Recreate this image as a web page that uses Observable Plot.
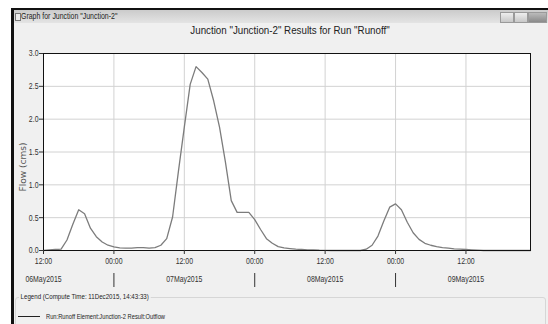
<!DOCTYPE html>
<html><head><meta charset="utf-8">
<script src="https://cdn.jsdelivr.net/npm/d3@7"></script>
<script src="https://cdn.jsdelivr.net/npm/@observablehq/plot@0.6"></script>
<style>
body{margin:0;background:#fff;}
#win{position:relative;width:548px;height:324px;overflow:hidden;background:#fff;font-family:"Liberation Sans",Arial,sans-serif;color:#222;}
.abs{position:absolute;}
#topline{left:11px;top:8px;width:537px;height:2px;background:#111;}
#leftline{left:11px;top:8px;width:3px;height:316px;background:#111;}
#titlebar{left:14px;top:10px;width:534px;height:13px;background:linear-gradient(#cbcbcb,#e4e4e4);}
#wtitle{left:21px;top:10px;font-size:8.5px;line-height:13px;white-space:nowrap;transform-origin:left center;transform:scaleX(0.82);}
#icon{left:15px;top:13px;width:4px;height:6px;border:1px solid #777;background:#eee;}
.btn{top:12px;height:9px;border:1px solid #9a9a9a;background:linear-gradient(#eee,#c8c8c8);}
#panel{left:14px;top:23px;width:534px;height:301px;background:#f0f0f0;}
#ctitle{left:40px;width:500px;top:24px;text-align:center;font-size:10.5px;line-height:13px;white-space:nowrap;transform-origin:center center;transform:scaleX(0.93);}
#chart{left:0;top:40px;}
#legbox{left:15px;top:297px;width:529px;height:40px;border:1px solid #d6d6d6;border-radius:3px;}
#legtitle{left:19px;top:292px;font-size:8px;line-height:10px;background:#f0f0f0;padding:0 2px;white-space:nowrap;transform-origin:left center;transform:scaleX(0.77);}
#legline{left:18px;top:316px;width:22px;height:1px;background:#222;}
#legtext{left:46px;top:312px;font-size:8px;line-height:9px;white-space:nowrap;transform-origin:left center;transform:scaleX(0.72);}
</style></head><body>
<div id="win">
  <div class="abs" id="panel"></div>
  <div class="abs" id="titlebar"></div>
  <div class="abs" id="topline"></div>
  <div class="abs" id="leftline"></div>
  <div class="abs" id="icon"></div>
  <div class="abs" id="wtitle"></div>
  <div class="abs btn" style="left:500px;width:12px;"></div>
  <div class="abs btn" style="left:514px;width:12px;"></div>
  <div class="abs btn" style="left:528px;width:17px;background:linear-gradient(#bbb,#8a8a8a);"></div>
  <div class="abs" id="ctitle"></div>
  <div class="abs" id="chart"></div>
  <div class="abs" id="legbox"></div>
  <div class="abs" id="legtitle"></div>
  <div class="abs" id="legline"></div>
  <div class="abs" id="legtext"></div>
</div>
<script>
// ---- data ----
const windowTitle = 'Graph for Junction "Junction-2"';
const chartTitle = 'Junction "Junction-2" Results for Run "Runoff"';
const yLabel = "Flow (cms)";
const legendTitle = "Legend (Compute Time: 11Dec2015, 14:43:33)";
const seriesName = "Run:Runoff Element:Junction-2 Result:Outflow";
const startTime = "2015-05-06T12:00:00Z";   // first hourly value
const endTime = "2015-05-09T23:00:00Z";     // end of time window
// hourly outflow (cms), from 06May2015 12:00
const flow = [
  0, 0.01, 0.015, 0.02, 0.16, 0.40, 0.62, 0.56, 0.34, 0.21,
  0.13, 0.08, 0.055, 0.04, 0.035, 0.035, 0.045, 0.045, 0.035, 0.045,
  0.08, 0.18, 0.51, 1.21, 1.88, 2.53, 2.80, 2.71, 2.61, 2.28,
  1.88, 1.35, 0.76, 0.58, 0.58, 0.58, 0.47, 0.32, 0.18, 0.11,
  0.06, 0.04, 0.03, 0.02, 0.015, 0.01, 0.01, 0.005, 0.003, 0,
  0, 0, 0, 0, 0, 0.02, 0.08, 0.22, 0.45, 0.66,
  0.71, 0.62, 0.43, 0.27, 0.17, 0.11, 0.08, 0.06, 0.045, 0.035,
  0.025, 0.02, 0.015, 0.01, 0.005, 0, 0, 0, 0, 0,
  0, 0, 0, 0
];
const yTicks = [0, 0.5, 1.0, 1.5, 2.0, 2.5, 3.0];

// ---- build ----
const start = new Date(startTime), end = new Date(endTime);
const data = flow.map((v, i) => ({t: d3.utcHour.offset(start, i), v}));
const xTicks = d3.utcHour.every(12).range(start, d3.utcHour.offset(end, 1));
const noonTicks = xTicks.filter(d => d.getUTCHours() === 12);
const midnightTicks = xTicks.filter(d => d.getUTCHours() === 0);

document.getElementById("wtitle").textContent = windowTitle;
document.getElementById("ctitle").textContent = chartTitle;
document.getElementById("legtitle").textContent = legendTitle;
document.getElementById("legtext").textContent = seriesName;

const chart = Plot.plot({
  width: 548, height: 250,
  marginLeft: 43, marginRight: 18, marginTop: 13, marginBottom: 40,
  style: {fontFamily: '"Liberation Sans",Arial,sans-serif', fontSize: "9px", color: "#222", background: "transparent", overflow: "visible"},
  x: {type: "utc", domain: [start, end]},
  y: {domain: [0, 3]},
  marks: [
    Plot.frame({fill: "#fff", stroke: null}),
    Plot.gridX(xTicks, {stroke: "#d2d2d2", strokeOpacity: 1}),
    Plot.gridY(yTicks, {stroke: "#d2d2d2", strokeOpacity: 1}),
    Plot.line(data, {x: "t", y: "v", stroke: "#7c7c7c", strokeWidth: 1.3}),
    Plot.frame({stroke: "#111"}),
    Plot.axisY(yTicks, {tickSize: 4, tickPadding: 1, tickFormat: d3.format(".1f"), label: null, color: "#333"}),
    Plot.axisX(xTicks, {tickSize: 4, tickPadding: 3, tickFormat: d3.utcFormat("%H:%M"), label: null, color: "#333"}),
    Plot.axisX(noonTicks, {tickSize: 0, tickPadding: 0, dy: 25, tickFormat: d3.utcFormat("%d%b%Y"), label: null, color: "#333"}),
    Plot.axisX(midnightTicks, {tickSize: 14, tickFormat: () => "", dy: 23, label: null, color: "#333"}),
    Plot.text([yLabel], {frameAnchor: "left", textAnchor: "middle", rotate: -90, dx: -20, dy: 15, fontFamily: "DejaVu Sans", fontSize: 9, fill: "#555"})
  ]
});
document.getElementById("chart").appendChild(chart);
// condense the tick labels (narrow UI font look)
chart.querySelectorAll('g[aria-label$="tick label"] text').forEach(t => {
  const len = t.getComputedTextLength();
  if (len > 0) {
    t.setAttribute("textLength", (len * 0.77).toFixed(2));
    t.setAttribute("lengthAdjust", "spacingAndGlyphs");
  }
});
</script>
</body></html>
